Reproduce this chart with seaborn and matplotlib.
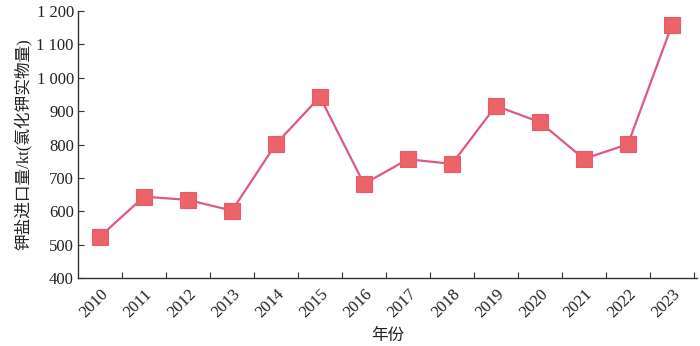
import matplotlib
matplotlib.use("Agg")
import matplotlib.pyplot as plt
import seaborn as sns
import pandas as pd
from matplotlib.ticker import FixedLocator, FuncFormatter

years = [2010, 2011, 2012, 2013, 2014, 2015, 2016, 2017, 2018, 2019, 2020, 2021, 2022, 2023]
imports_kt = [524, 644, 634, 602, 802, 943, 682, 756, 742, 916, 867, 757, 801, 1158]
y_ticks = [400, 500, 600, 700, 800, 900, 1000, 1100, 1200]
x_label = "年份"
y_label = "钾盐进口量/kt(氯化钾实物量)"

sns.set_theme(style="white")
plt.rcParams['font.family'] = ['Liberation Serif', 'Noto Sans CJK SC']
plt.rcParams['axes.unicode_minus'] = False

df = pd.DataFrame({"year": years, "value": imports_kt})

fig = plt.figure(figsize=(7.0, 3.46), dpi=100)
ax = fig.add_axes([0.1114, 0.1965, 0.8843, 0.7715])

sns.lineplot(data=df, x="year", y="value", ax=ax, color="#dc5a82", linewidth=1.6,
             marker="s", markersize=11, markerfacecolor="#ec6468",
             markeredgecolor="#e45c6e", markeredgewidth=0.8)

ax.set_xlim(years[0] - 0.5, years[-1] + 0.57)
ax.set_ylim(y_ticks[0], y_ticks[-1])
ax.set_yticks(y_ticks)
ax.yaxis.set_major_formatter(FuncFormatter(lambda v, p: f"{int(v):,}".replace(",", " ")))
ax.set_xticks(years)
ax.set_xticklabels([str(y) for y in years], rotation=45, ha="right", rotation_mode="anchor")
ax.xaxis.set_minor_locator(FixedLocator([y + 0.5 for y in years]))
ax.tick_params(axis="x", which="major", length=0, pad=6, labelsize=12, colors="#222222")
ax.tick_params(axis="x", which="minor", direction="in", length=4, width=0.8, color="#333333", bottom=True)
ax.tick_params(axis="y", which="major", direction="in", length=4, width=0.8, color="#333333",
               labelsize=12, left=True, pad=3, labelcolor="#222222")

for s in ["top", "right"]:
    ax.spines[s].set_visible(False)
for s in ["left", "bottom"]:
    ax.spines[s].set_color("#333333")
    ax.spines[s].set_linewidth(1.0)

ax.set_xlabel(x_label, fontsize=12, color="#222222", labelpad=5)
ax.set_ylabel(y_label, fontsize=12, color="#222222", labelpad=3)
ax.grid(False)

fig.savefig("out.png", dpi=100)
